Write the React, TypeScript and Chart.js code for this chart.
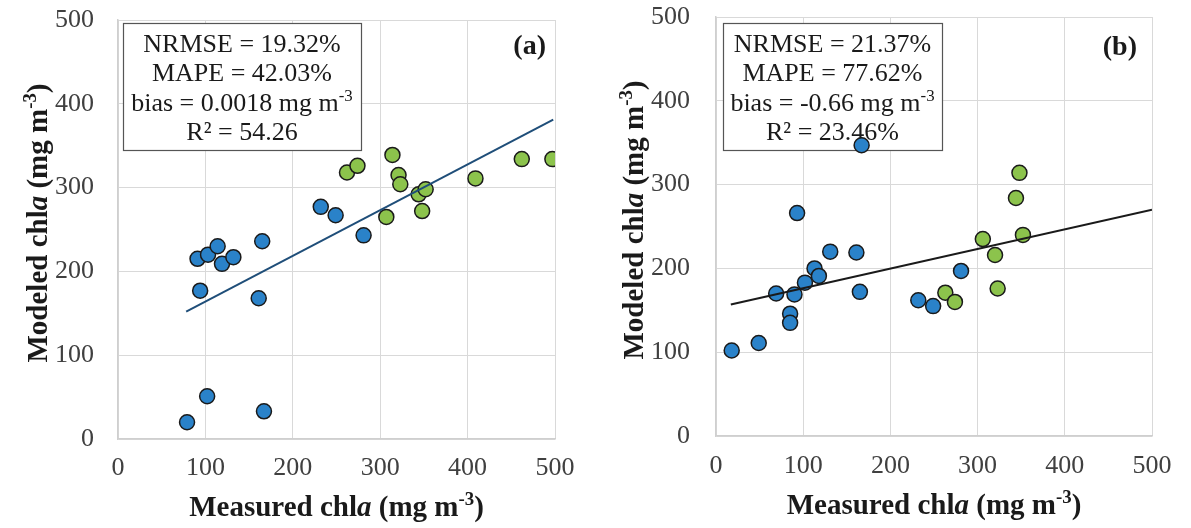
import React, { useEffect, useRef } from "react";
import { Chart, registerables } from "chart.js";
Chart.register(...registerables);

// ---------- data ----------
const tickValues = [0, 100, 200, 300, 400, 500];

const blueAx = [79, 91, 94, 102, 103, 114, 119, 132, 161, 165, 167, 232, 249, 281];
const blueAy = [20, 215, 177, 51, 220, 230, 209, 217, 168, 236, 33, 277, 267, 243];
const greenAx = [262, 274, 307, 314, 321, 323, 344, 348, 352, 409, 462, 497];
const greenAy = [318, 326, 265, 339, 315, 304, 292, 272, 298, 311, 334, 334];
const fitAx = [78, 498];
const fitAy = [152, 381];

const blueBx = [18, 49, 69, 85, 85, 90, 93, 102, 113, 118, 131, 161, 165, 167, 232, 249, 281];
const blueBy = [102, 111, 170, 146, 135, 169, 266, 183, 200, 191, 220, 219, 172, 347, 162, 155, 197];
const greenBx = [263, 274, 306, 320, 323, 344, 348, 352];
const greenBy = [171, 160, 235, 216, 176, 284, 314, 240];
const fitBx = [17, 500];
const fitBy = [157, 270];

const statsA = ["NRMSE = 19.32%", "MAPE = 42.03%", "bias = 0.0018 mg m^{-3}", "R² = 54.26"];
const statsB = ["NRMSE = 21.37%", "MAPE = 77.62%", "bias = -0.66 mg m^{-3}", "R² = 23.46%"];
const xTitle = "Measured chl*a* (mg m^{-3})";
const yTitle = "Modeled chl*a* (mg m^{-3})";

// ---------- helpers ----------
const FAM = '"Liberation Serif", "Times New Roman", serif';
const zip = (xs: number[], ys: number[]) => xs.map((x, i) => ({ x, y: ys[i] }));

type Seg = { t: string; it: boolean; sup: boolean };
function parse(s: string): Seg[] {
  const out: Seg[] = [];
  const re = /\*([^*]+)\*|\^\{([^}]+)\}/g;
  let last = 0;
  let m: RegExpExecArray | null;
  while ((m = re.exec(s))) {
    if (m.index > last) out.push({ t: s.slice(last, m.index), it: false, sup: false });
    if (m[1] !== undefined) out.push({ t: m[1], it: true, sup: false });
    else out.push({ t: m[2], it: false, sup: true });
    last = re.lastIndex;
  }
  if (last < s.length) out.push({ t: s.slice(last), it: false, sup: false });
  return out;
}
function fontOf(g: Seg, size: number, bold: boolean) {
  const sz = g.sup ? size * 0.65 : size;
  return `${g.it ? "italic " : ""}${bold ? "bold " : ""}${sz}px ${FAM}`;
}
function drawRich(ctx: CanvasRenderingContext2D, s: string, x: number, y: number, size: number, bold: boolean, color: string, align: string = "center") {
  const segs = parse(s);
  let w = 0;
  for (const g of segs) {
    ctx.font = fontOf(g, size, bold);
    w += ctx.measureText(g.t).width;
  }
  let cx = align === "center" ? x - w / 2 : align === "right" ? x - w : x;
  ctx.fillStyle = color;
  ctx.textBaseline = "alphabetic";
  ctx.textAlign = "left";
  for (const g of segs) {
    ctx.font = fontOf(g, size, bold);
    ctx.fillText(g.t, cx, g.sup ? y - size * 0.38 : y);
    cx += ctx.measureText(g.t).width;
  }
}

type PanelCfg = {
  left: number;
  width: number;
  yAxisWidth: number;
  xAxisHeight: number;
  padTop: number;
  padRight: number;
  yTickGap: number;
  xTickPad: number;
  blue: { x: number; y: number }[];
  green: { x: number; y: number }[];
  fit: { x: number; y: number }[];
  fitColor: string;
  stats: string[];
  box: { x: number; y: number; w: number; h: number };
  label: string;
  labelX: number;
  labelY: number;
  yTitleX: number;
  yTitleY: number;
  xTitleY: number;
};

const panels: PanelCfg[] = [
  {
    left: 0, width: 596, yAxisWidth: 118, xAxisHeight: 89, padTop: 20, padRight: 41,
    yTickGap: 24, xTickPad: 14,
    blue: zip(blueAx, blueAy), green: zip(greenAx, greenAy), fit: zip(fitAx, fitAy), fitColor: "#1F4E79",
    stats: statsA, box: { x: 123, y: 23, w: 238, h: 127 },
    label: "(a)", labelX: 546, labelY: 54, yTitleX: 47, yTitleY: 223, xTitleY: 516,
  },
  {
    left: 596, width: 595, yAxisWidth: 120, xAxisHeight: 92, padTop: 17, padRight: 39,
    yTickGap: 26, xTickPad: 15,
    blue: zip(blueBx, blueBy), green: zip(greenBx, greenBy), fit: zip(fitBx, fitBy), fitColor: "#1a1a1a",
    stats: statsB, box: { x: 127, y: 23, w: 219, h: 127 },
    label: "(b)", labelX: 541, labelY: 55, yTitleX: 47, yTitleY: 220, xTitleY: 514,
  },
];

function Panel({ cfg }: { cfg: PanelCfg }) {
  const ref = useRef<HTMLCanvasElement>(null);
  useEffect(() => {
    const annot = {
      id: "annot",
      beforeDatasetsDraw(chart: any) {
        const ctx: CanvasRenderingContext2D = chart.ctx;
        const b = cfg.box;
        ctx.save();
        ctx.fillStyle = "#ffffff";
        ctx.fillRect(b.x, b.y, b.w, b.h);
        ctx.strokeStyle = "#555555";
        ctx.lineWidth = 1.2;
        ctx.strokeRect(b.x + 0.5, b.y + 0.5, b.w, b.h);
        const offs = [28.5, 58, 87.5, 117];
        cfg.stats.forEach((s, i) => drawRich(ctx, s, b.x + b.w / 2, b.y + offs[i], 26, false, "#1a1a1a"));
        ctx.restore();
      },
      afterDraw(chart: any) {
        const ctx: CanvasRenderingContext2D = chart.ctx;
        const ca = chart.chartArea;
        ctx.save();
        ctx.font = `bold 28px ${FAM}`;
        ctx.fillStyle = "#1a1a1a";
        ctx.textAlign = "right";
        ctx.textBaseline = "alphabetic";
        ctx.fillText(cfg.label, cfg.labelX, cfg.labelY);
        drawRich(ctx, xTitle, (ca.left + ca.right) / 2, cfg.xTitleY, 29, true, "#1a1a1a");
        ctx.translate(cfg.yTitleX, cfg.yTitleY);
        ctx.rotate(-Math.PI / 2);
        drawRich(ctx, yTitle, 0, 0, 29, true, "#1a1a1a");
        ctx.restore();
      },
    };
    const axisCommon = () => ({
      type: "linear" as const,
      min: 0,
      max: 500,
      afterBuildTicks: (s: any) => {
        s.ticks = tickValues.map((v) => ({ value: v }));
      },
      border: { display: true, color: "#cfcfcf", width: 1.5 },
    });
    const tickFont = { family: FAM, size: 26 };
    const chart = new Chart(ref.current as HTMLCanvasElement, {
      type: "scatter",
      data: {
        datasets: [
          {
            type: "line" as any,
            data: cfg.fit,
            borderColor: cfg.fitColor,
            borderWidth: 2,
            pointRadius: 0,
            fill: false,
          } as any,
          {
            data: cfg.blue,
            backgroundColor: "#2A82C9",
            borderColor: "#1a1a1a",
            borderWidth: 1.5,
            pointRadius: 7.5,
          },
          {
            data: cfg.green,
            backgroundColor: "#8CC34C",
            borderColor: "#1a1a1a",
            borderWidth: 1.5,
            pointRadius: 7.5,
          },
        ],
      },
      options: {
        animation: false,
        responsive: false,
        devicePixelRatio: 1,
        layout: { padding: { top: cfg.padTop, right: cfg.padRight, left: 0, bottom: 0 } },
        plugins: { legend: { display: false }, tooltip: { enabled: false } },
        scales: {
          x: {
            ...axisCommon(),
            position: "bottom",
            ticks: { padding: cfg.xTickPad, color: "#404040", font: tickFont },
            grid: { color: "#d9d9d9", lineWidth: 1, drawTicks: false },
            afterFit: (s: any) => {
              s.height = cfg.xAxisHeight;
            },
          } as any,
          y: {
            ...axisCommon(),
            position: "left",
            ticks: { padding: 0, color: "#404040", font: tickFont },
            grid: {
              color: "#d9d9d9",
              lineWidth: 1,
              drawTicks: true,
              tickLength: cfg.yTickGap,
              tickColor: "rgba(0,0,0,0)",
            },
            afterFit: (s: any) => {
              s.width = cfg.yAxisWidth;
            },
          } as any,
        },
      },
      plugins: [annot],
    });
    return () => chart.destroy();
  }, []);
  return (
    <canvas
      ref={ref}
      width={cfg.width}
      height={528}
      style={{ position: "absolute", left: cfg.left, top: 0, width: cfg.width, height: 528 }}
    />
  );
}

export default function App() {
  return (
    <div style={{ position: "fixed", left: 0, top: 0, width: 1191, height: 528, background: "#ffffff", overflow: "hidden" }}>
      {panels.map((p, i) => (
        <Panel key={i} cfg={p} />
      ))}
    </div>
  );
}
